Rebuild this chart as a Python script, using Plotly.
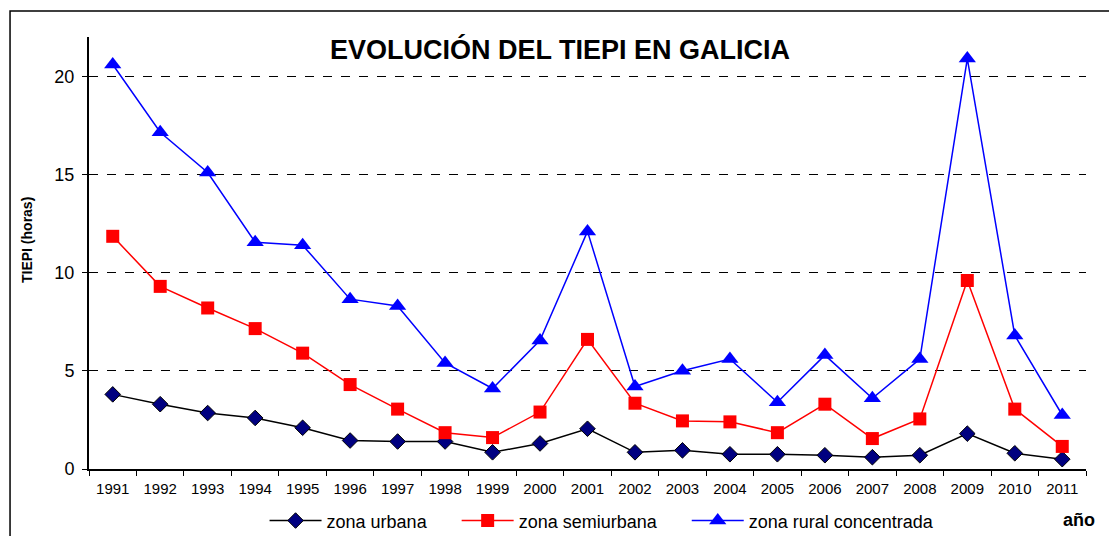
import plotly.graph_objects as go

years = [str(y) for y in range(1991, 2012)]

urbana = [3.8, 3.3, 2.85, 2.6, 2.1, 1.45, 1.4, 1.4, 0.85, 1.3, 2.05,
          0.85, 0.95, 0.75, 0.75, 0.7, 0.6, 0.7, 1.8, 0.8, 0.5]
semiurbana = [11.85, 9.3, 8.2, 7.15, 5.9, 4.3, 3.05, 1.85, 1.6, 2.9, 6.6,
              3.35, 2.45, 2.4, 1.85, 3.3, 1.55, 2.55, 9.6, 3.05, 1.15]
rural = [20.6, 17.15, 15.1, 11.55, 11.4, 8.65, 8.3, 5.4, 4.1, 6.55, 12.1,
         4.2, 5.0, 5.6, 3.4, 5.8, 3.6, 5.6, 20.9, 6.8, 2.75]

FONT = "Arial, Liberation Sans, sans-serif"
GAP = "\u00a0" * 5  # extra room between legend entries

fig = go.Figure()

fig.add_trace(go.Scatter(
    x=years, y=urbana, name="zona urbana" + GAP, mode="lines+markers",
    line=dict(color="black", width=1.5),
    marker=dict(symbol="diamond", size=12, color="#000080",
                line=dict(color="black", width=1))))

fig.add_trace(go.Scatter(
    x=years, y=semiurbana, name="zona semiurbana" + GAP, mode="lines+markers",
    line=dict(color="#ff0000", width=1.5),
    marker=dict(symbol="square", size=13, color="#ff0000")))

fig.add_trace(go.Scatter(
    x=years, y=rural, name="zona rural concentrada", mode="lines+markers",
    line=dict(color="#0000ff", width=1.5),
    marker=dict(symbol="triangle-up", size=15, color="#0000ff")))

# page body has an 8px margin, so everything is placed 8px up/left
fig.update_layout(
    width=1117, height=536,
    margin=dict(l=81, r=39, t=29, b=75, autoexpand=False),
    paper_bgcolor="white", plot_bgcolor="white",
    font=dict(family=FONT, color="black"),
    showlegend=True,
    legend=dict(orientation="h", x=0.5146, xanchor="center", y=-0.12,
                yanchor="middle", font=dict(size=18), itemwidth=52,
                bgcolor="rgba(0,0,0,0)"),
    xaxis=dict(type="category", range=[-0.5, 20.5], showline=True,
               linecolor="black", linewidth=2, ticks="outside",
               tickson="boundaries", ticklen=5, tickcolor="black",
               tickwidth=1, showgrid=False, tickfont=dict(size=15),
               ticklabelstandoff=5, automargin=False),
    yaxis=dict(range=[0, 22], tickvals=[0, 5, 10, 15, 20], showline=True,
               linecolor="black", linewidth=2, ticks="outside", ticklen=5,
               tickcolor="black", showgrid=True, gridcolor="black",
               griddash="dash", gridwidth=1, zeroline=False,
               tickfont=dict(size=18), ticklabelstandoff=4,
               automargin=False),
    shapes=[dict(type="rect", xref="paper", yref="paper",
                 x0=-0.0792, x1=1.2, y0=-0.3, y1=1.060,
                 line=dict(color="black", width=1.5), layer="below")],
    annotations=[
        dict(text="<b>EVOLUCIÓN DEL TIEPI EN GALICIA</b>", xref="paper",
             yref="paper", x=0.4724, y=0.970, xanchor="center",
             yanchor="middle", showarrow=False, font=dict(size=27)),
        dict(text="<b>TIEPI (horas)</b>", xref="paper", yref="paper",
             x=-0.0622, y=0.53, xanchor="center", yanchor="middle",
             textangle=-90, showarrow=False, font=dict(size=14)),
        dict(text="<b>año</b>", xref="paper", yref="paper", x=0.993,
             y=-0.118, xanchor="center", yanchor="middle",
             showarrow=False, font=dict(size=18)),
    ],
)

fig.write_html("out.html")
